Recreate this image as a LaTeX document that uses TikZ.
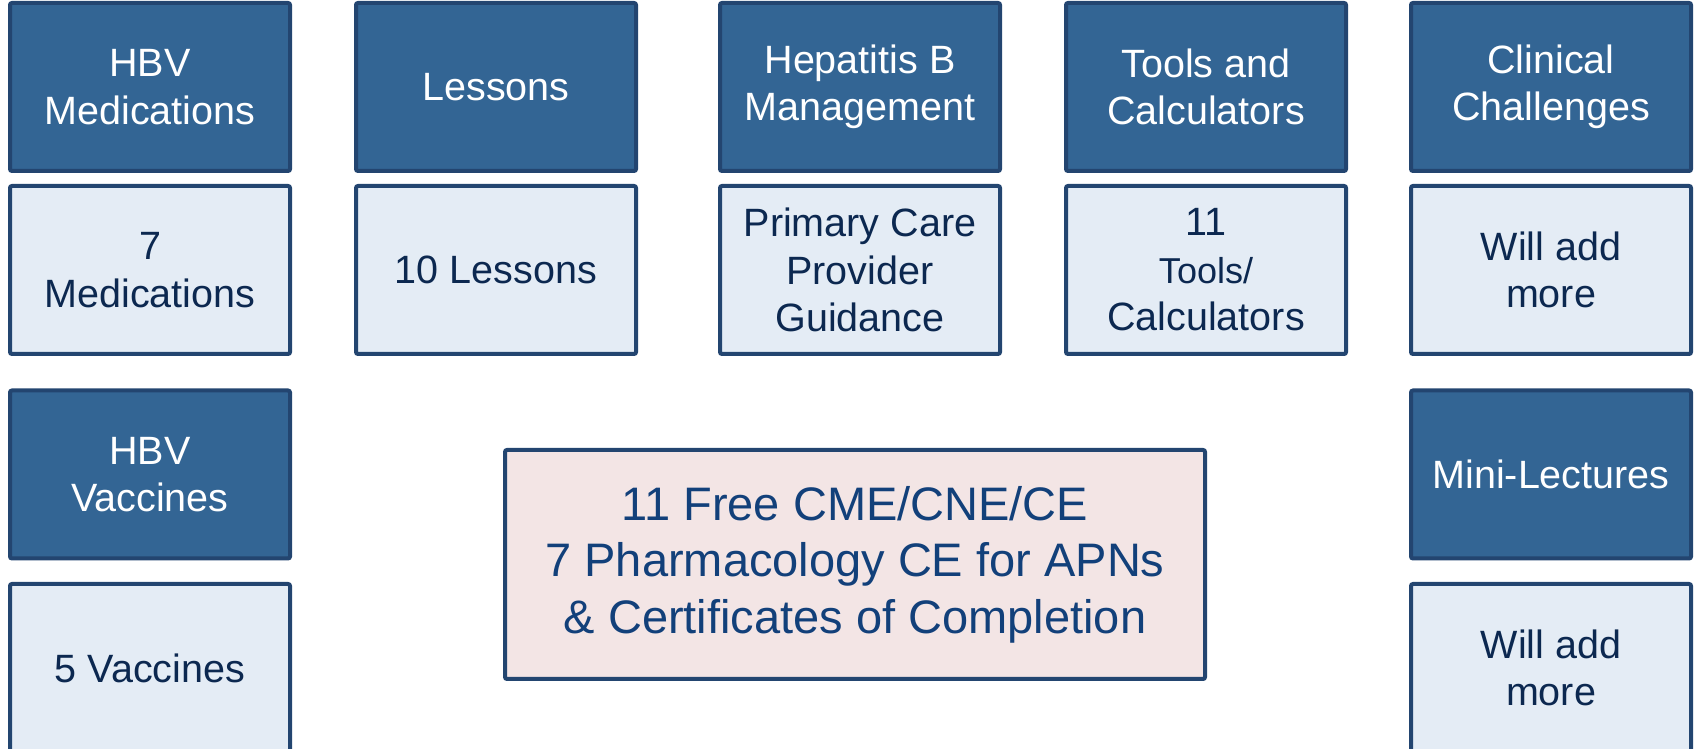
\documentclass[tikz,border=0pt]{standalone}
\usepackage{fontspec}
\setmainfont{Liberation Sans}
\definecolor{hbvblue}{RGB}{51,101,148}
\definecolor{hbvedge}{RGB}{35,69,112}
\definecolor{hbvpale}{RGB}{228,236,245}
\definecolor{hbvnavy}{RGB}{12,40,80}
\definecolor{hbvpink}{RGB}{243,229,229}
\definecolor{hbvtext}{RGB}{18,64,122}
\tikzset{
  tile/.style={draw=hbvedge, line width=4pt, rounded corners=2pt, align=center,
    minimum width=280pt, minimum height=168pt, inner sep=0pt,
    font=\fontsize{39.5}{47.4}\selectfont},
  head/.style={tile, fill=hbvblue, text=white},
  count/.style={tile, fill=hbvpale, text=hbvnavy},
  credit/.style={draw=hbvedge, line width=4pt, rounded corners=2pt, align=center,
    fill=hbvpink, text=hbvtext, minimum width=700pt, minimum height=229pt,
    font=\fontsize{47}{56.4}\selectfont}
}
\begin{document}
\begin{tikzpicture}[x=1pt,y=1pt]
	\useasboundingbox (0,0) rectangle (1694,749);
	
	% top row: topics
	\node[head] (medhead) at (150,662) {HBV\\Medications};
	\node[head] (lesshead) at (496,662) {Lessons};
	\node[head] (mgmthead) at (860,662) {Hepatitis B\\Management};
	\node[head] (toolhead) at (1206,662) {Tools and\\Calculators};
	\node[head] (clinhead) at (1551,662) {Clinical\\Challenges};
	
	% second row: counts
	\node[count] (medcount) at (150,479) {7\\Medications};
	\node[count] (lesscount) at (496,479) {10 Lessons};
	\node[count] (mgmtcount) at (860,479) {Primary Care\\Provider\\Guidance};
	\node[count] (toolcount) at (1206,479) {11\\\fontsize{36}{43.2}\selectfont Tools/\\Calculators};
	\node[count] (clincount) at (1551,479) {Will add\\more};
	
	% lower rows
	\node[head] (vacchead) at (150,274.5) {HBV\\Vaccines};
	\node[count] (vacccount) at (150,81) {5 Vaccines};
	\node[head] (minihead) at (1551,274.5) {Mini-Lectures};
	\node[count] (minicount) at (1551,81) {Will add\\more};
	
	\node[credit] (credits) at (855,184.5) {11 Free CME/CNE/CE\\7 Pharmacology CE for APNs\\\& Certificates of Completion};
\end{tikzpicture}
\end{document}
